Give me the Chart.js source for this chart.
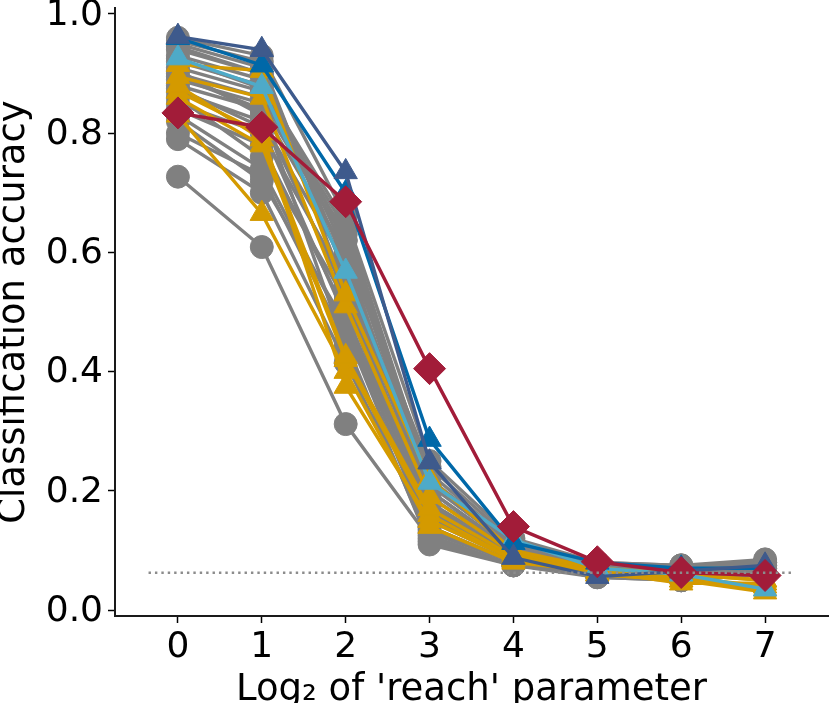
<!DOCTYPE html>
<html>
<head>
<meta charset="utf-8">
<script src="https://cdn.jsdelivr.net/npm/chart.js@4.4.0/dist/chart.umd.min.js"></script>
<style>
  html, body { margin: 0; padding: 0; background: #ffffff; }
  canvas { display: block; }
</style>
</head>
<body>
<canvas id="chart" width="830" height="703"></canvas>
<script>
// x positions (log2 of reach) and tick labels
const reachLog2 = [0, 1, 2, 3, 4, 5, 6, 7];
const yTicks = [0.0, 0.2, 0.4, 0.6, 0.8, 1.0];
const chanceLevel = 1 / 16;
const chanceSpan = [-0.35, 7.35];

// gray runs (circles)
const grayRuns = [
  [0.727, 0.609, 0.312, 0.120, 0.075, 0.060, 0.050, 0.060],
  [0.790, 0.700, 0.415, 0.130, 0.080, 0.055, 0.050, 0.065],
  [0.800, 0.730, 0.450, 0.110, 0.075, 0.060, 0.055, 0.070],
  [0.820, 0.720, 0.480, 0.140, 0.080, 0.060, 0.060, 0.075],
  [0.830, 0.740, 0.470, 0.125, 0.075, 0.055, 0.050, 0.060],
  [0.840, 0.780, 0.500, 0.150, 0.085, 0.065, 0.060, 0.070],
  [0.850, 0.800, 0.550, 0.160, 0.090, 0.070, 0.065, 0.080],
  [0.860, 0.760, 0.520, 0.140, 0.080, 0.060, 0.055, 0.065],
  [0.870, 0.820, 0.580, 0.170, 0.090, 0.070, 0.065, 0.075],
  [0.875, 0.810, 0.490, 0.135, 0.080, 0.060, 0.055, 0.065],
  [0.880, 0.840, 0.600, 0.180, 0.095, 0.075, 0.070, 0.080],
  [0.890, 0.850, 0.620, 0.190, 0.100, 0.075, 0.070, 0.080],
  [0.895, 0.840, 0.440, 0.115, 0.075, 0.060, 0.050, 0.060],
  [0.900, 0.860, 0.630, 0.200, 0.100, 0.070, 0.065, 0.075],
  [0.905, 0.830, 0.530, 0.155, 0.085, 0.065, 0.060, 0.070],
  [0.910, 0.870, 0.640, 0.210, 0.105, 0.075, 0.070, 0.080],
  [0.920, 0.880, 0.650, 0.220, 0.110, 0.080, 0.075, 0.080],
  [0.925, 0.875, 0.570, 0.175, 0.090, 0.070, 0.065, 0.075],
  [0.930, 0.890, 0.620, 0.230, 0.110, 0.080, 0.070, 0.075],
  [0.940, 0.900, 0.600, 0.240, 0.115, 0.075, 0.070, 0.080],
  [0.945, 0.900, 0.540, 0.165, 0.090, 0.065, 0.060, 0.070],
  [0.950, 0.910, 0.580, 0.200, 0.100, 0.070, 0.065, 0.070],
  [0.955, 0.920, 0.560, 0.180, 0.095, 0.065, 0.060, 0.070],
  [0.960, 0.930, 0.660, 0.250, 0.120, 0.080, 0.075, 0.085]
];

// orange runs (triangles)
const orangeRuns = [
  [0.915, 0.905, 0.530, 0.220, 0.100, 0.070, 0.060, 0.050],
  [0.895, 0.860, 0.510, 0.190, 0.095, 0.070, 0.060, 0.050],
  [0.880, 0.790, 0.425, 0.170, 0.090, 0.065, 0.055, 0.040],
  [0.870, 0.800, 0.375, 0.150, 0.085, 0.060, 0.050, 0.030],
  [0.860, 0.780, 0.420, 0.160, 0.085, 0.060, 0.050, 0.035],
  [0.830, 0.665, 0.400, 0.140, 0.080, 0.065, 0.045, 0.045]
];

// single highlighted runs
const lightBlueRun = [0.926, 0.878, 0.568, 0.214, 0.118, 0.070, 0.060, 0.035];
const blueRun      = [0.960, 0.914, 0.700, 0.286, 0.113, 0.080, 0.070, 0.070];
const navyRun      = [0.962, 0.940, 0.735, 0.248, 0.088, 0.056, 0.065, 0.075];
const redRun       = [0.834, 0.810, 0.685, 0.405, 0.140, 0.081, 0.063, 0.058];

const FONT = 'DejaVu Sans';

function toPoints(values) {
  return reachLog2.map((x, i) => ({ x: x, y: values[i] }));
}

function runDataset(values, color, style, radius, order) {
  return {
    data: toPoints(values),
    borderColor: color,
    backgroundColor: color,
    borderWidth: 3.4,
    pointStyle: style,
    pointRadius: radius,
    pointHoverRadius: radius,
    pointBackgroundColor: color,
    pointBorderColor: color,
    pointBorderWidth: 1,
    tension: 0,
    clip: false,
    order: order
  };
}

// zero out the room chart.js keeps for edge tick labels
function noEdgePadding(s) {
  s.paddingTop = 0;
  s.paddingBottom = 0;
  s.paddingLeft = 0;
  s.paddingRight = 0;
}

const datasets = [];
datasets.push({
  data: chanceSpan.map(x => ({ x: x, y: chanceLevel })),
  borderColor: '#8c8c8c',
  borderWidth: 2.4,
  borderDash: [2.4, 4],
  pointRadius: 0,
  order: -1
});
datasets.push(runDataset(redRun, '#a21c39', 'rectRot', 16, 0));
datasets.push(runDataset(navyRun, '#3e5a8c', 'triangle', 13.5, 1));
datasets.push(runDataset(blueRun, '#0068a8', 'triangle', 13.5, 2));
datasets.push(runDataset(lightBlueRun, '#4eaac8', 'triangle', 13.5, 3));
orangeRuns.forEach(r => datasets.push(runDataset(r, '#d49a00', 'triangle', 13.5, 4)));
grayRuns.forEach(r => datasets.push(runDataset(r, '#808080', 'circle', 11.5, 5)));

new Chart(document.getElementById('chart'), {
  type: 'line',
  data: { datasets: datasets },
  options: {
    responsive: false,
    animation: false,
    devicePixelRatio: 1,
    layout: { autoPadding: false, padding: { top: 8, right: 2, left: 0, bottom: 0 } },
    plugins: {
      legend: { display: false },
      tooltip: { enabled: false }
    },
    scales: {
      x: {
        type: 'linear',
        min: -0.75,
        max: 7.75,
        afterBuildTicks: s => { s.ticks = reachLog2.map(v => ({ value: v })); },
        afterFit: s => { s.height = 87; noEdgePadding(s); },
        ticks: {
          color: '#000',
          font: { family: FONT, size: 36 },
          padding: 3,
          callback: v => String(v)
        },
        grid: { drawOnChartArea: false, drawTicks: true, tickLength: 7, tickColor: '#000', tickWidth: 1.5 },
        border: { color: '#1a1a1a', width: 2 },
        title: {
          display: true,
          text: "Log\u2082 of 'reach' parameter",
          color: '#000',
          font: { family: FONT, size: 37, lineHeight: 1 },
          padding: { top: 0, bottom: -6 }
        }
      },
      y: {
        type: 'linear',
        min: -0.01,
        max: 1.01,
        afterBuildTicks: s => { s.ticks = yTicks.map(v => ({ value: v })); },
        afterFit: s => { s.width = 115; noEdgePadding(s); },
        ticks: {
          color: '#000',
          font: { family: FONT, size: 36 },
          padding: 5,
          labelOffset: 1.5,
          callback: v => Number(v).toFixed(1)
        },
        grid: { drawOnChartArea: false, drawTicks: true, tickLength: 7, tickColor: '#000', tickWidth: 1.5 },
        border: { color: '#1a1a1a', width: 2 },
        title: {
          display: true,
          text: 'Classification accuracy',
          color: '#000',
          font: { family: FONT, size: 37, lineHeight: 1 },
          padding: { top: -4, bottom: 0 }
        }
      }
    }
  }
});
</script>
</body>
</html>
